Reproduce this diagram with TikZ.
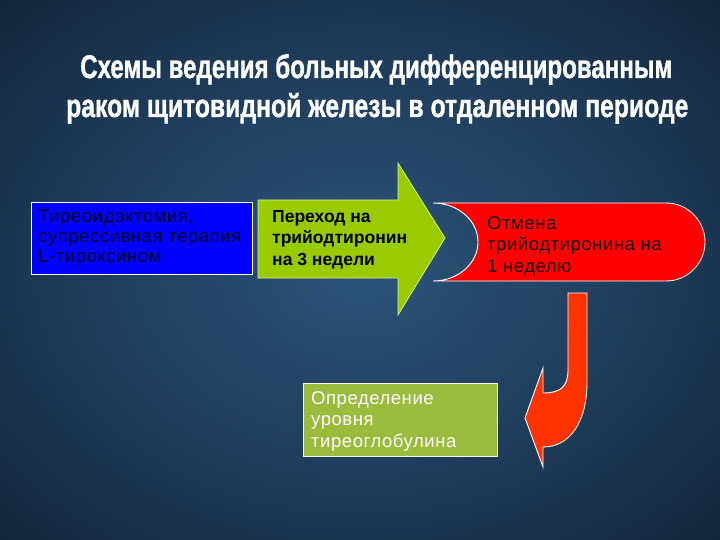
\documentclass[tikz,border=0pt]{standalone}
\usepackage{fontspec}
\setmainfont{Liberation Sans}
\newfontfamily\titlefont[FakeBold=1.2]{Liberation Sans Bold}
\newfontfamily\spacedfont[LetterSpace=3]{Liberation Sans}
\usepackage{graphicx}
\definecolor{bgin}{RGB}{44,84,122}
\definecolor{bgmid}{RGB}{30,60,90}
\definecolor{bgedge}{RGB}{16,34,54}
\definecolor{bgout}{RGB}{8,16,27}
\definecolor{boxblue}{RGB}{0,0,255}
\definecolor{arrowgreen}{RGB}{153,204,0}
\definecolor{boxgreen}{RGB}{155,187,60}
\definecolor{boxred}{RGB}{255,0,0}
\definecolor{bentred}{RGB}{255,51,0}
\pgfdeclareradialshading{bgshade}{\pgfpoint{0bp}{0bp}}{color(0bp)=(bgin); color(20bp)=(bgmid); color(38bp)=(bgedge); color(50bp)=(bgout)}
\tikzset{
  shapeline/.style={draw=white, line width=0.9pt},
  boxtext/.style={anchor=north west, inner sep=0pt, align=left, font=\spacedfont\fontsize{18.5}{21.5}\selectfont},
  titleline/.style={anchor=base west, inner sep=0pt, text=white}
}
\begin{document}
\begin{tikzpicture}[x=1pt,y=-1pt]
\useasboundingbox (0,0) rectangle (720,540);
\shade[shading=bgshade] (0,0) rectangle (720,540);

% title
\node[titleline] (t1) at (80,78) {\resizebox{592pt}{24pt}{\titlefont Схемы ведения больных дифференцированным}};
\node[titleline] (t2) at (66,117) {\resizebox{622pt}{24pt}{\titlefont раком щитовидной железы в отдаленном периоде}};

% blue box
\draw[shapeline, fill=boxblue] (31,202) rectangle (252,274);
\node[boxtext, text=black!85!blue, font=\spacedfont\fontsize{18.5}{20}\selectfont] (b1) at (38,210) {Тиреоидэктомия,\\супрессивная терапия\\L-тироксином};

% green arrow
\draw[draw=white!60!arrowgreen, line width=0.8pt, fill=arrowgreen]
  (258,200) -- (398,200) -- (398,163) -- (445,238) -- (398,315) -- (398,278) -- (258,278) -- cycle;
\node[boxtext, text=black, font=\fontsize{17.5}{21.5}\selectfont\bfseries] (g1) at (272,210) {Переход на\\трийодтиронин\\на 3 недели};

% red rounded shape
\draw[shapeline, fill=boxred]
  (433,203) -- (666,203)
  .. controls (687.5,203) and (705,220.5) .. (705,242)
  .. controls (705,263.5) and (687.5,281) .. (666,281)
  -- (433,281)
  .. controls (457.9,281) and (478,263.5) .. (478,242)
  .. controls (478,220.5) and (457.9,203) .. (433,203) -- cycle;
\node[boxtext, text=black!90!red] (r1) at (487,216) {Отмена\\трийодтиронина на\\1 неделю};

% bent arrow
\draw[shapeline, fill=bentred]
  (568,293) -- (587,293) -- (587,382)
  .. controls (587,422) and (570,447) .. (543,447)
  -- (543,467) -- (525,418) -- (543,368) -- (543,393)
  .. controls (560,393) and (568,387) .. (568,370) -- cycle;

% bottom green box
\draw[shapeline, fill=boxgreen] (303,383) rectangle (497,456);
\node[boxtext, text=white] (d1) at (311,391) {Определение\\уровня\\тиреоглобулина};
\end{tikzpicture}
\end{document}
